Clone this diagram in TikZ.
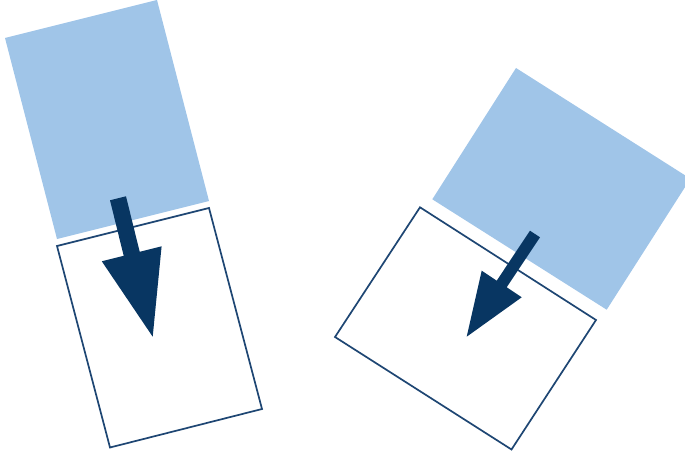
\documentclass[tikz,border=0pt]{standalone}
\usetikzlibrary{calc}
\definecolor{lightblue}{RGB}{160,197,232}
\definecolor{navy}{RGB}{8,54,98}
\definecolor{edgeblue}{RGB}{30,70,115}
\tikzset{
  panel/.style={fill=lightblue, draw=none},
  frame/.style={draw=edgeblue, line width=1.7pt, line join=miter, fill=white},
  fatarrow/.style={fill=navy, draw=none}
}
\begin{document}
\begin{tikzpicture}[x=1pt,y=-1pt]
\useasboundingbox (0,0) rectangle (685,457);
% left pair
\fill[panel] (5,38) -- (157,0) -- (209,201) -- (57,239) -- cycle;
\draw[frame] (57,246) -- (209,208) -- (262,409) -- (110,447.5) -- cycle;
\fill[fatarrow] (110,200.3) -- (126,196.3) -- (139.7,251.8) -- (161.6,246.3)
  -- (152.7,336.7) -- (101.8,261.3) -- (123.7,255.8) -- cycle;
% right pair
\begin{scope}
\clip (0,0) rectangle (685,457);
\fill[panel] (516,68) -- (690.4,178.7) -- (606.7,309.7) -- (432.3,199.3) -- cycle;
\end{scope}
\draw[frame] (420,207.3) -- (596,320) -- (511.5,449.5) -- (335,337) -- cycle;
\fill[fatarrow] (530,230.7) -- (540,237.3) -- (506.7,287.3) -- (521.7,297.3)
  -- (466.7,336.7) -- (481.7,270.7) -- (496.7,280.7) -- cycle;
\end{tikzpicture}
\end{document}
